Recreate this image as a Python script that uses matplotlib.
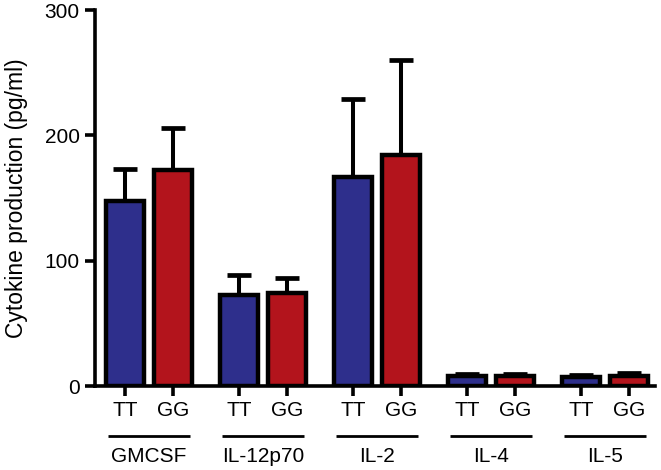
import numpy as np
import matplotlib
matplotlib.use("Agg")
from matplotlib import pyplot as plt
import matplotlib.transforms as mtransforms

plt.rcParams['font.family'] = ['Liberation Sans', 'DejaVu Sans']

cytokines = ["GMCSF", "IL-12p70", "IL-2", "IL-4", "IL-5"]
genotypes = ["TT", "GG"]
tt_mean = [148, 72.5, 167, 8, 7]
gg_mean = [172, 74.5, 184, 8, 8]
tt_err = [25, 16, 62, 1.5, 1.5]
gg_err = [34, 11.5, 76, 1.5, 2.5]

blue = "#2e2f8c"
red = "#b3141c"

fig = plt.figure(figsize=(6.61, 4.70), dpi=100)
ax = fig.add_axes([0.1437, 0.1787, 0.991 - 0.1437, 0.9787 - 0.1787])

x = np.arange(len(cytokines))
off = 0.21
w = 0.335
lw = 3.2

for xs, m, e, c in [(x - off, tt_mean, tt_err, blue), (x + off, gg_mean, gg_err, red)]:
    ax.errorbar(xs, m, yerr=[np.zeros(len(m)), e], fmt="none", ecolor="black",
                elinewidth=2.9, capsize=8.5, capthick=3.4, zorder=1)
    ax.bar(xs, m, width=w, color=c, edgecolor="black", linewidth=lw, zorder=2)

ax.set_ylim(0, 300)
ax.set_xlim(-0.474, 4.44)
ax.set_yticks([0, 100, 200, 300])
ax.set_xticks(np.concatenate([x - off, x + off]))
ax.set_xticklabels(["TT"] * len(x) + ["GG"] * len(x))
ax.tick_params(axis="both", direction="out", length=7, width=2.6, labelsize=15, pad=4)
ax.set_ylabel("Cytokine production (pg/ml)", fontsize=16.5, labelpad=12)

for s in ["top", "right"]:
    ax.spines[s].set_visible(False)
for s in ["left", "bottom"]:
    ax.spines[s].set_linewidth(2.6)

trans = mtransforms.blended_transform_factory(ax.transData, ax.transAxes)
for i, name in enumerate(cytokines):
    ax.plot([i - 0.36, i + 0.36], [-0.132, -0.132], color="black", lw=2.0,
            transform=trans, clip_on=False, solid_capstyle="butt")
    ax.text(i, -0.162, name, transform=trans, ha="center", va="top", fontsize=15)

fig.savefig("out.png", dpi=100)
